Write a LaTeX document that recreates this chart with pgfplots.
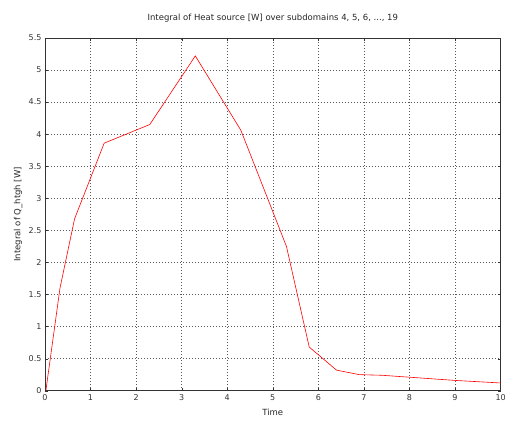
\documentclass[border=0pt]{standalone}
\usepackage{pgfplots}
\pgfplotsset{compat=1.18}
\usepackage{fontspec}
\setmainfont{DejaVu Sans}
\begin{document}
\begin{tikzpicture}[x=1pt,y=1pt]
\path (0,0) rectangle (509,422);
\begin{axis}[
  at={(45pt,31pt)}, anchor=south west,
  scale only axis, width=456pt, height=353pt,
  xmin=0, xmax=10, ymin=0, ymax=5.5,
  xtick={0,1,...,10},
  ytick={0,0.5,1,1.5,2,2.5,3,3.5,4,4.5,5,5.5},
  yticklabels={0,0.5,1,1.5,2,2.5,3,3.5,4,4.5,5,5.5},
  scaled y ticks=false,
  tick align=inside,
  major tick length=3pt,
  grid=major,
  major grid style={black!65, line width=0.45pt, dash pattern=on 1pt off 2pt},
  axis line style={black!80},
  tick style={black!80},
  tick label style={font=\fontsize{8}{9}\selectfont, text=black!80},
  /pgf/number format/assume math mode=true,
  xlabel={Time}, ylabel={Integral of Q\_htgh [W]},
  label style={font=\fontsize{8.5}{9}\selectfont, text=black!85},
  xlabel style={at={(axis description cs:0.5,0)}, anchor=north, yshift=-15pt},
  ylabel style={at={(axis description cs:0,0.5)}, anchor=south, yshift=19pt},
  title={Integral of Heat source [W] over subdomains 4, 5, 6, ..., 19},
  title style={font=\fontsize{8.5}{9}\selectfont, text=black!85, yshift=6pt},
]
\addplot[red, line width=0.6pt] coordinates {
(0.02,0) (0.33,1.6) (0.65,2.68) (1.3,3.86) (2.3,4.15) (3.3,5.22) (4.3,4.06)
(5.3,2.25) (5.8,0.68) (6.4,0.32) (6.9,0.25) (7.4,0.24) (8,0.21) (9,0.16) (10,0.12)
};
\node[anchor=south west, inner sep=0pt, font=\fontsize{7.5}{8}\selectfont, text=black!80] at (axis description cs:0,1) {x10\textsuperscript{-4}};
\end{axis}
\end{tikzpicture}
\end{document}
